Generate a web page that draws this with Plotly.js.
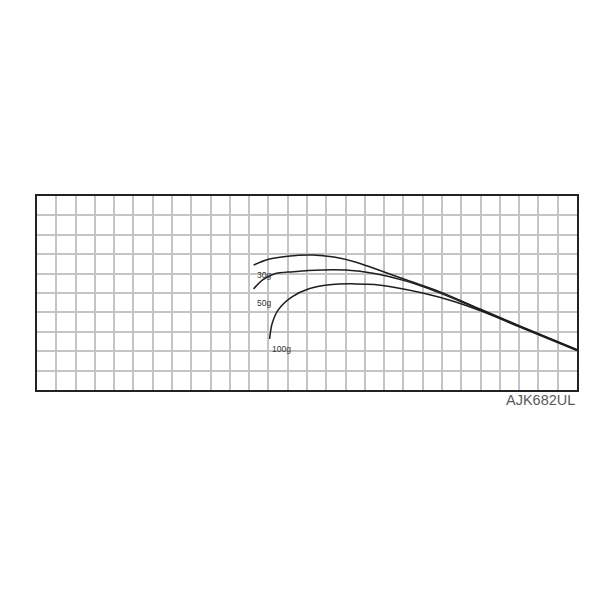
<!DOCTYPE html>
<html>
<head>
<meta charset="utf-8">
<script src="https://cdn.plot.ly/plotly-3.0.1.min.js"></script>
<style>html,body{margin:0;padding:0;background:#fff;}#chart{width:600px;height:600px;}</style>
</head>
<body>
<div id="chart"></div>
<script>
// Curve data (grid units: 28 columns x 10 rows)
const x30 = [11.23, 12.0, 13.0, 14.3, 15.4, 16.5, 17.5, 19.2, 20.9, 23.0, 25.0, 28.0];
const y30 = [6.44, 6.74, 6.90, 6.96, 6.85, 6.60, 6.26, 5.66, 5.06, 4.16, 3.32, 2.09];

const x50 = [11.23, 11.7, 12.3, 13.3, 14.8, 16.0, 17.5, 19.0, 20.5, 22.0, 23.5, 25.0, 28.0];
const y50 = [5.21, 5.68, 5.98, 6.10, 6.19, 6.18, 6.00, 5.65, 5.15, 4.55, 3.92, 3.29, 2.06];

const x100 = [12.06, 12.2, 12.5, 13.2, 14.1, 15.3, 16.5, 17.5, 18.5, 20.0, 21.5, 23.0, 25.0, 28.0];
const y100 = [2.63, 3.45, 4.12, 4.79, 5.22, 5.44, 5.47, 5.44, 5.30, 5.00, 4.60, 4.08, 3.26, 2.03];

const curveLabels = ["30g", "50g", "100g"];
const labelX = [11.75, 11.75, 12.7];
const labelY = [5.93, 4.48, 2.11];
const modelName = "AJK682UL";

const lineStyle = {color: "#1e1e1e", width: 1.5, shape: "spline", smoothing: 1.0};
const traces = [
  {x: x30, y: y30, mode: "lines", line: lineStyle, hoverinfo: "skip"},
  {x: x50, y: y50, mode: "lines", line: lineStyle, hoverinfo: "skip"},
  {x: x100, y: y100, mode: "lines", line: lineStyle, hoverinfo: "skip"}
];

const annotations = curveLabels.map((t, i) => ({
  x: labelX[i], y: labelY[i], xref: "x", yref: "y", text: t, showarrow: false,
  font: {family: "Liberation Sans, Arial, sans-serif", size: 8.5, color: "#333"}
}));
annotations.push({
  x: 1, y: 0, xref: "paper", yref: "paper", xanchor: "right", yanchor: "top", yshift: 0,
  text: modelName, showarrow: false,
  font: {family: "Liberation Sans, Arial, sans-serif", size: 14.5, color: "#5a5a5a"}
});

const axisBase = {
  showgrid: true, gridcolor: "#c4c4c4", gridwidth: 2, dtick: 1, tick0: 0,
  showticklabels: false, ticks: "", zeroline: false,
  showline: true, linecolor: "#222", linewidth: 2, mirror: true, fixedrange: true
};

const layout = {
  width: 600, height: 600,
  margin: {l: 37, r: 23, t: 196, b: 210, pad: 0},
  paper_bgcolor: "#fff", plot_bgcolor: "#fff",
  showlegend: false,
  xaxis: Object.assign({}, axisBase, {range: [0, 28]}),
  yaxis: Object.assign({}, axisBase, {range: [0, 10]}),
  annotations: annotations
};

Plotly.newPlot("chart", traces, layout, {displayModeBar: false, staticPlot: true});
</script>
</body>
</html>
